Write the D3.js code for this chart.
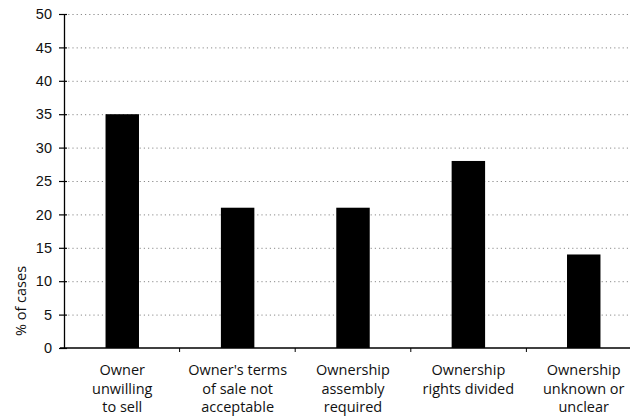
<!DOCTYPE html>
<html>
<head>
<meta charset="utf-8">
<script src="https://cdn.jsdelivr.net/npm/d3@7"></script>
<style>
  body { margin: 0; background: #fff; }
  svg { display: block; font-family: "Open Sans", "DejaVu Sans", sans-serif; }
  .grid line { stroke: #8a8a8a; stroke-dasharray: 1.2,3; }
  .grid path { display: none; }
  .axis path, .axis line { stroke: #000; }
  .axis text { fill: #111; font-size: 14.5px; }
  .cat text { fill: #111; font-size: 14.5px; }
</style>
</head>
<body>
<div id="root"></div>
<script>
// chart values
var categories = [
  ["Owner", "unwilling", "to sell"],
  ["Owner's terms", "of sale not", "acceptable"],
  ["Ownership", "assembly", "required"],
  ["Ownership", "rights divided"],
  ["Ownership", "unknown or", "unclear"]
];
var values = [35, 21, 21, 28, 14];
var yTicks = [0, 5, 10, 15, 20, 25, 30, 35, 40, 45, 50];
var yLabel = "% of cases";

var width = 630, height = 417,
    margin = { top: 14, left: 64, right: -12, bottom: 69 };

var svg = d3.select("#root").append("svg")
  .attr("width", width)
  .attr("height", height);

var ids = categories.map(function (_, i) { return i; });

var x = d3.scaleBand()
  .domain(ids)
  .range([margin.left, width - margin.right])
  .paddingInner(0.71)
  .paddingOuter(0.36);

var xTicksScale = d3.scaleBand()
  .domain(ids)
  .range([margin.left, width - margin.right]);

var y = d3.scaleLinear()
  .domain([0, 50])
  .range([height - margin.bottom, margin.top]);

// dotted gridlines
svg.append("g").classed("grid", true)
  .attr("transform", "translate(" + margin.left + ",0)")
  .call(d3.axisRight(y).tickValues(yTicks.slice(1)).tickSize(width - margin.left).tickFormat(""));

// bars
svg.append("g").selectAll("rect")
  .data(values)
  .enter()
  .append("rect")
  .attr("x", function (_, i) { return x(i); })
  .attr("width", x.bandwidth())
  .attr("y", function (d) { return y(d); })
  .attr("height", function (d) { return y(0) - y(d); })
  .style("fill", "#000");

// x axis line + separating ticks
var xa = svg.append("g").classed("axis", true);
xa.append("line")
  .attr("x1", margin.left - 4).attr("x2", width)
  .attr("y1", y(0)).attr("y2", y(0))
  .attr("stroke-width", 1.3);
xa.selectAll(".sep")
  .data(ids.slice(1))
  .enter()
  .append("line")
  .attr("x1", function (d) { return xTicksScale(d); })
  .attr("x2", function (d) { return xTicksScale(d); })
  .attr("y1", y(0))
  .attr("y2", y(0) + 4);

// y axis
var ya = svg.append("g").classed("axis", true)
  .attr("transform", "translate(" + margin.left + ",0)")
  .call(d3.axisLeft(y).tickValues(yTicks).tickSize(5).tickPadding(7).tickSizeOuter(0));
ya.select("path").attr("stroke-width", 1.3);
ya.selectAll(".tick line").attr("x2", -5).attr("x1", 3).attr("stroke-width", 1.2);

// y label
svg.append("text")
  .attr("transform", "translate(26,301) rotate(-90)")
  .attr("text-anchor", "middle")
  .style("font-size", "14.5px")
  .style("fill", "#111")
  .text(yLabel);

// category labels
var cat = svg.append("g").classed("cat", true);
categories.forEach(function (lines, i) {
  var t = cat.append("text")
    .attr("text-anchor", "middle")
    .attr("x", x(i) + x.bandwidth() / 2)
    .attr("y", 375);
  lines.forEach(function (l, j) {
    t.append("tspan")
      .attr("x", x(i) + x.bandwidth() / 2)
      .attr("dy", j === 0 ? 0 : 18.5)
      .text(l);
  });
});
</script>
</body>
</html>
